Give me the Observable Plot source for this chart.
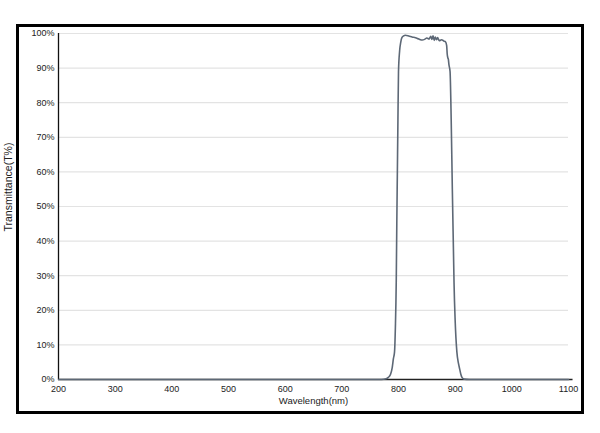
<!DOCTYPE html>
<html>
<head>
<meta charset="utf-8">
<script src="https://cdn.jsdelivr.net/npm/d3@7"></script>
<script src="https://cdn.jsdelivr.net/npm/@observablehq/plot@0.6"></script>
<style>
  html, body { margin: 0; padding: 0; background: #fff; }
  #wrap { position: relative; width: 600px; height: 433px; }
  #box { position: absolute; left: 16px; top: 24px; width: 562px; height: 384px; border: 3px solid #000; pointer-events: none; }
</style>
</head>
<body>
<div id="wrap"><div id="box"></div></div>
<script>
const wavelength = [200, 300, 400, 500, 600, 700, 770, 778, 782, 786, 789, 791, 793, 794.5, 796, 797, 798, 799, 800, 802, 804, 806, 809, 812, 818, 824, 830, 836, 842, 846, 850, 854, 857, 859, 861, 863, 865, 867, 869, 872, 876, 880, 883, 885, 886, 887, 888, 889, 891, 893, 895, 897, 898, 900, 903, 906, 908, 910, 912, 916, 925, 1000, 1100];
const transmittance = [0, 0, 0, 0, 0, 0, 0, 0.2, 0.6, 1.5, 3.5, 6, 8, 15, 28, 45, 60, 75, 89, 95, 97.5, 98.8, 99.3, 99.5, 99.3, 99, 98.8, 98.4, 98.1, 98.3, 98.7, 98.4, 99.2, 98.3, 99.3, 98, 99, 98.2, 98.8, 97.9, 98.2, 97.8, 97.6, 96.5, 94, 93, 92.5, 91, 89, 75, 55, 37, 28, 17, 8, 4.5, 3, 1.5, 0.6, 0.1, 0, 0, 0];
const xTicks = [200, 300, 400, 500, 600, 700, 800, 900, 1000, 1100];
const yTicks = [0, 10, 20, 30, 40, 50, 60, 70, 80, 90, 100];
const xTitle = "Wavelength(nm)";
const yTitle = "Transmittance(T%)";

const data = wavelength.map((w, i) => ({w, t: transmittance[i]}));

const chart = Plot.plot({
  width: 600,
  height: 433,
  marginLeft: 58,
  marginRight: 32,
  marginTop: 33,
  marginBottom: 54,
  style: {fontFamily: "'Liberation Sans', Arial, sans-serif", fontSize: "9px", color: "#222", background: "transparent"},
  x: {domain: [200, 1100]},
  y: {domain: [0, 100]},
  marks: [
    Plot.gridY(yTicks.filter(d => d > 0), {stroke: "#e3e3e3", strokeOpacity: 1, strokeWidth: 1.2}),
    Plot.axisX(xTicks, {tickSize: 0, tickPadding: 6, label: null, tickFormat: d => String(d)}),
    Plot.axisY(yTicks, {tickSize: 0, tickPadding: 4, label: null, tickFormat: d => d + "%"}),
    Plot.ruleX([200], {stroke: "#111", strokeWidth: 1.3}),
    Plot.ruleY([0], {x1: 200, x2: 1108, stroke: "#222", strokeWidth: 1.3}),
    Plot.line(data, {x: "w", y: "t", stroke: "#5d6876", strokeWidth: 1.6, curve: "monotone-x"}),
    Plot.text([xTitle], {frameAnchor: "bottom", dy: 24, fontSize: 9.5, fill: "#222"}),
    Plot.text([yTitle], {frameAnchor: "left", dx: -50, dy: 25, rotate: -90, fontSize: 10.5, fill: "#222"})
  ]
});
chart.style.position = "absolute";
chart.style.left = "0";
chart.style.top = "0";
document.getElementById("wrap").appendChild(chart);
</script>
</body>
</html>
